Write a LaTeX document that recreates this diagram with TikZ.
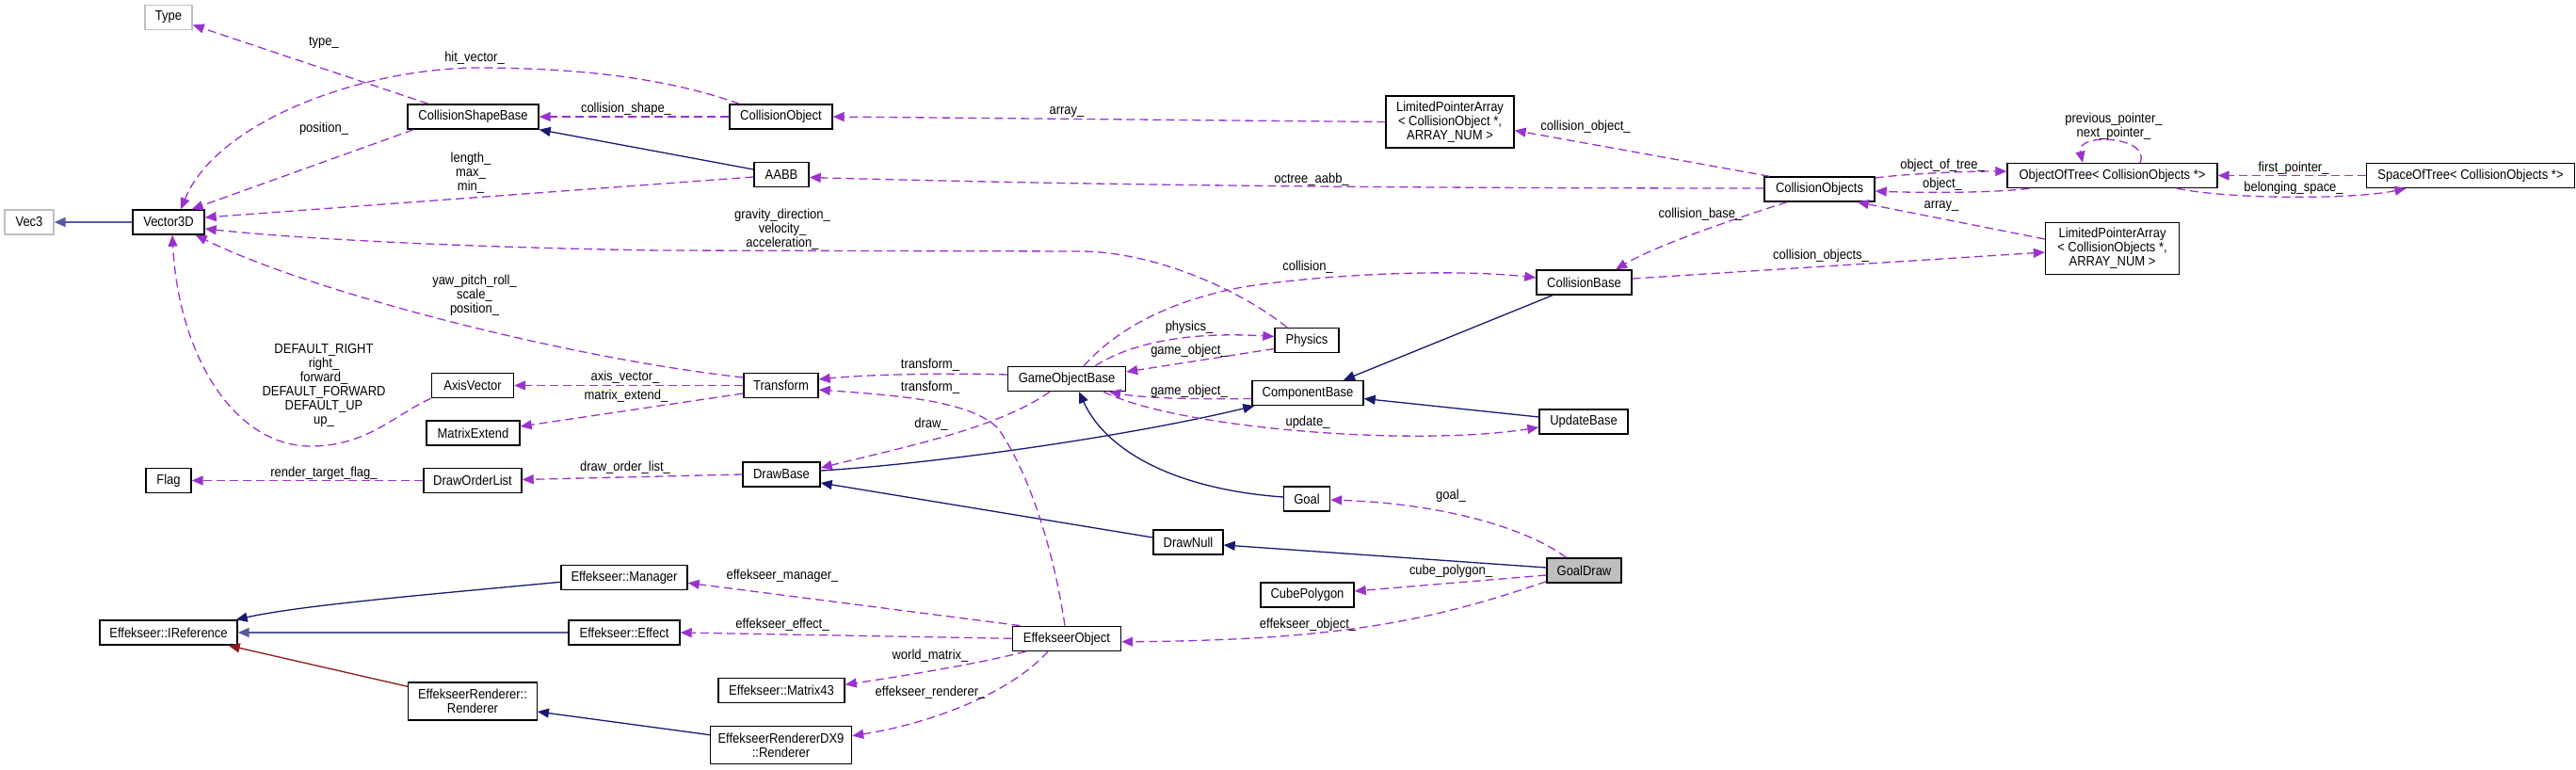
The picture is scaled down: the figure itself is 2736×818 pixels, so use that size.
\documentclass[tikz,border=0pt]{standalone}
\usepackage{fontspec}
\setmainfont{Liberation Sans}[FakeStretch=0.895]
\usetikzlibrary{arrows.meta,calc}
\definecolor{inh}{HTML}{191970}
\definecolor{inhlight}{HTML}{5858A4}
\definecolor{use}{HTML}{9A32CD}
\definecolor{priv}{HTML}{8B1A1A}
\definecolor{nodoc}{HTML}{BFBFBF}
\begin{document}
\begin{tikzpicture}[x=1pt,y=-1pt,
  every node/.style={font=\fontsize{14.5}{15}\selectfont, inner sep=0pt},
  cls/.style={draw=black, line width=1.4pt, fill=white, align=center, minimum height=26pt},
  ext/.style={cls, draw=nodoc},
  cur/.style={cls, fill=nodoc},
  inhe/.style={draw=inh, line width=1.3pt, -{Triangle[length=12pt,width=10pt]}},
  inhh/.style={inhe, draw=inhlight, line width=1.9pt},
  usee/.style={draw=use, line width=1.3pt, dash pattern=on 9pt off 5pt, -{Triangle[length=12pt,width=10pt]}},
  lbl/.style={align=center}]
\useasboundingbox (0,0) rectangle (2736,818);

% ---- classes ----
\node[ext, minimum width=50pt] (Type) at (179,18.5) {Type};
\node[ext, minimum width=52pt] (Vec3) at (31,236) {Vec3};
\node[cls, minimum width=76pt] (V3D) at (179,236) {Vector3D};
\node[cls, minimum width=139pt] (CSB) at (502.5,124) {CollisionShapeBase};
\node[cls, minimum width=109pt] (CO) at (829.5,124) {CollisionObject};
\node[cls, minimum width=58pt] (AABB) at (830,185.5) {AABB};
\node[cls, minimum width=136pt, minimum height=55pt] (LPA1) at (1540,129.5) {LimitedPointerArray\\< CollisionObject *,\\ARRAY\_NUM >};
\node[cls, minimum width=117pt] (COS) at (1932.5,201) {CollisionObjects};
\node[cls, minimum width=223pt] (OOT) at (2243.5,186.5) {ObjectOfTree< CollisionObjects *>};
\node[cls, minimum width=221pt] (SOT) at (2624,186.5) {SpaceOfTree< CollisionObjects *>};
\node[cls, minimum width=142pt, minimum height=55pt] (LPA2) at (2243.5,264) {LimitedPointerArray\\< CollisionObjects *,\\ARRAY\_NUM >};
\node[cls, minimum width=101pt] (CB) at (1682.5,300) {CollisionBase};
\node[cls, minimum width=68pt] (Phys) at (1388,361.5) {Physics};
\node[cls, minimum width=118pt] (CompB) at (1389,417.5) {ComponentBase};
\node[cls, minimum width=125pt] (GOB) at (1133,402.5) {GameObjectBase};
\node[cls, minimum width=79pt] (Trans) at (829.5,409.5) {Transform};
\node[cls, minimum width=87pt] (Axis) at (502,409.5) {AxisVector};
\node[cls, minimum width=99pt] (MatE) at (502.5,460) {MatrixExtend};
\node[cls, minimum width=48pt] (Flag) at (179,510.5) {Flag};
\node[cls, minimum width=104pt] (DOL) at (502,510.5) {DrawOrderList};
\node[cls, minimum width=82pt] (DB) at (830,504) {DrawBase};
\node[cls, minimum width=94pt] (UB) at (1682,448) {UpdateBase};
\node[cls, minimum width=49pt] (Goal) at (1388,530) {Goal};
\node[cls, minimum width=74pt] (DN) at (1262,576) {DrawNull};
\node[cur, minimum width=79pt] (GD) at (1682.5,606) {GoalDraw};
\node[cls, minimum width=99pt] (Cube) at (1388.5,632) {CubePolygon};
\node[cls, minimum width=115pt] (EO) at (1133,678.3) {EffekseerObject};
\node[cls, minimum width=134pt] (Mgr) at (663,613.3) {Effekseer::Manager};
\node[cls, minimum width=118pt] (Eff) at (663,672) {Effekseer::Effect};
\node[cls, minimum width=146pt] (IRef) at (179,672) {Effekseer::IReference};
\node[cls, minimum width=134pt] (M43) at (830,733.3) {Effekseer::Matrix43};
\node[cls, minimum width=136.5pt, minimum height=40pt] (Rend) at (502,745) {EffekseerRenderer::\\Renderer};
\node[cls, minimum width=150pt, minimum height=40pt] (DX9) at (829.5,791.7) {EffekseerRendererDX9\\::Renderer};

% ---- inheritance ----
\draw[inhh] (V3D.west) -- (Vec3.east);
\draw[inhe] ($(AABB.west)+(0,-5.5)$) -- (CSB.south east);
\draw[inhe] ($(CB.south)+(-33.5,0)$) -- ($(CompB.north)+(38,0)$);
\draw[inhe] ($(UB.west)+(0,-5)$) -- ($(CompB.east)+(0,6)$);
\draw[inhe] ($(DB.east)+(0,-4)$) .. controls (1000,492) and (1200,463) .. ($(CompB.south west)+(3,0)$);
\draw[inhe] ($(Goal.west)+(0,-2)$) .. controls (1250,520) and (1175,480) .. ($(GOB.south)+(13,0)$);
\draw[inhe] ($(DN.west)+(0,-5)$) -- ($(DB.east)+(0,9)$);
\draw[inhe] ($(GD.west)+(0,-3)$) -- ($(DN.east)+(0,3)$);
\draw[inhe] ($(Mgr.west)+(0,5)$) .. controls (450,632) and (320,643) .. ($(IRef.north east)+(-2,0)$);
\draw[inhh] (Eff.west) -- (IRef.east);
\draw[inhe, draw=priv] ($(Rend.north west)+(0,5)$) -- ($(IRef.south east)+(-10,0)$);
\draw[inhe] ($(DX9.west)+(0,-11)$) -- ($(Rend.east)+(0,11)$);

% ---- usage ----
\draw[usee] ($(CSB.north)+(-47.5,0)$) -- ($(Type.east)+(0,8)$);
\draw[usee] ($(CO.north)+(-44,0)$) .. controls (700,80) and (600,72) .. (504,72) .. controls (380,74) and (230,130) .. ($(V3D.north)+(13,0)$);
\draw[usee] ($(CSB.south west)+(7,0)$) -- ($(V3D.north east)+(-14,0)$);
\draw[usee] (CO.west) -- (CSB.east);
\draw[usee] ($(AABB.west)+(0,2.5)$) -- ($(V3D.east)+(0,-5)$);
\draw[usee] ($(Phys.north)+(-21,0)$) .. controls (1320,310) and (1230,268) .. (1149,267) -- (700,266) .. controls (500,263) and (320,254) .. ($(V3D.east)+(0,7)$);
\draw[usee] (LPA1.west) -- (CO.east);
\draw[usee] ($(COS.north west)+(6,0)$) -- ($(LPA1.east)+(0,9)$);
\draw[usee] ($(COS.west)+(0,-1)$) .. controls (1400,200) and (1100,195) .. ($(AABB.east)+(0,3)$);
\draw[usee] ($(COS.east)+(0,-12)$) .. controls (2030,184) and (2090,182) .. ($(OOT.west)+(0,-4.5)$);
\draw[usee] ($(OOT.south west)+(24,0)$) .. controls (2120,205) and (2040,205) .. ($(COS.east)+(0,2)$);
\draw[usee] ($(LPA2.west)+(0,-10)$) -- ($(COS.south east)+(-19,0)$);
\draw[usee] ($(CB.east)+(0,-4)$) -- ($(LPA2.west)+(0,4)$);
\draw[usee] ($(COS.south)+(-34.5,0)$) .. controls (1850,230) and (1760,260) .. ($(CB.north)+(33.5,0)$);
\draw[usee] ($(OOT.north)+(29.5,0)$) .. controls (2285,145) and (2205,140) .. ($(OOT.north)+(-31.5,0)$);
\draw[usee] (SOT.west) -- (OOT.east);
\draw[usee] ($(OOT.south)+(68.5,0)$) .. controls (2370,212) and (2500,212) .. ($(SOT.south west)+(42.6,0)$);
\draw[usee] ($(Trans.west)+(0,-8.5)$) .. controls (600,380) and (330,310) .. ($(V3D.south east)+(-10,0)$);
\draw[usee] (Axis.south west) .. controls (420,440) and (390,474) .. (330,474) .. controls (250,474) and (190,380) .. ($(V3D.south)+(4,0)$);
\draw[usee] (Trans.west) -- (Axis.east);
\draw[usee] ($(Trans.west)+(0,8.5)$) -- ($(MatE.east)+(0,-7)$);
\draw[usee] (DB.west) -- ($(DOL.east)+(0,-1)$);
\draw[usee] (DOL.west) -- (Flag.east);
\draw[usee] ($(GOB.west)+(0,-4.5)$) .. controls (1000,396) and (920,398) .. ($(Trans.east)+(0,-6.5)$);
\draw[usee] ($(EO.north)+(-2,0)$) .. controls (1120,590) and (1095,505) .. (1060,455) .. controls (1030,425) and (950,420) .. ($(Trans.east)+(0,4.5)$);
\draw[usee] ($(GOB.south)+(-18,0)$) .. controls (1060,455) and (960,475) .. ($(DB.east)+(0,-7)$);
\draw[usee] ($(GOB.north)+(18,0)$) .. controls (1190,345) and (1250,318) .. (1320,305) .. controls (1400,292) and (1540,285) .. ($(CB.west)+(0,-5)$);
\draw[usee] ($(GOB.north)+(30,0)$) .. controls (1200,365) and (1260,352) .. ($(Phys.west)+(0,-4)$);
\draw[usee] ($(Phys.west)+(0,9)$) -- ($(GOB.east)+(0,-7.5)$);
\draw[usee] ($(CompB.west)+(0,6)$) .. controls (1280,424) and (1220,424) .. ($(GOB.south east)+(-18,0)$);
\draw[usee] ($(GOB.south east)+(-24,0)$) .. controls (1250,455) and (1500,475) .. ($(UB.west)+(0,6)$);
\draw[usee] ($(GD.north)+(-19,0)$) .. controls (1620,560) and (1530,535) .. ($(Goal.east)+(0,1)$);
\draw[usee] ($(GD.west)+(0,5)$) -- ($(Cube.east)+(0,-4)$);
\draw[usee] ($(GD.south west)+(0,-2)$) .. controls (1520,660) and (1420,680) .. ($(EO.east)+(0,3.5)$);
\draw[usee] ($(EO.north west)+(8.5,0)$) -- ($(Mgr.east)+(0,6)$);
\draw[usee] (EO.west) -- (Eff.east);
\draw[usee] ($(EO.south west)+(15,0)$) .. controls (1040,705) and (960,718) .. ($(M43.east)+(0,-6)$);
\draw[usee] ($(EO.south)+(-20,0)$) .. controls (1070,740) and (980,770) .. ($(DX9.east)+(0,-10)$);

% ---- labels ----
\node[lbl] (l1) at (344,45) {type\_};
\node[lbl] (l2) at (504,62) {hit\_vector\_};
\node[lbl] (l3) at (344,137) {position\_};
\node[lbl] (l4) at (665,116) {collision\_shape\_};
\node[lbl] (l5) at (500,183.5) {length\_\\max\_\\min\_};
\node[lbl] (l6) at (831,244) {gravity\_direction\_\\velocity\_\\acceleration\_};
\node[lbl] (l7) at (1133,119) {array\_};
\node[lbl] (l8) at (1684,135) {collision\_object\_};
\node[lbl] (l9) at (1393,191) {octree\_aabb\_};
\node[lbl] (l10) at (2063,176) {object\_of\_tree\_};
\node[lbl] (l11) at (2063,196) {object\_};
\node[lbl] (l12) at (2062,219) {array\_};
\node[lbl] (l13) at (1934,272) {collision\_objects\_};
\node[lbl] (l14) at (1806,228) {collision\_base\_};
\node[lbl] (l15) at (2245,134) {previous\_pointer\_\\next\_pointer\_};
\node[lbl] (l16) at (2436,179) {first\_pointer\_};
\node[lbl] (l17) at (2436,200) {belonging\_space\_};
\node[lbl] (l18) at (504,313.5) {yaw\_pitch\_roll\_\\scale\_\\position\_};
\node[lbl] (l19) at (344,409.5) {DEFAULT\_RIGHT\\right\_\\forward\_\\DEFAULT\_FORWARD\\DEFAULT\_UP\\up\_};
\node[lbl] (l20) at (664,401) {axis\_vector\_};
\node[lbl] (l21) at (665,421) {matrix\_extend\_};
\node[lbl] (l22) at (664,497) {draw\_order\_list\_};
\node[lbl] (l23) at (344,503) {render\_target\_flag\_};
\node[lbl] (l24) at (988,388) {transform\_};
\node[lbl] (l25) at (988,412) {transform\_};
\node[lbl] (l26) at (989,451) {draw\_};
\node[lbl] (l27) at (1389,284) {collision\_};
\node[lbl] (l28) at (1263,348) {physics\_};
\node[lbl] (l29) at (1263,373) {game\_object\_};
\node[lbl] (l30) at (1263,416) {game\_object\_};
\node[lbl] (l31) at (1389,449) {update\_};
\node[lbl] (l32) at (1541,527) {goal\_};
\node[lbl] (l33) at (1541,607) {cube\_polygon\_};
\node[lbl] (l34) at (1389,664) {effekseer\_object\_};
\node[lbl] (l35) at (831,611.7) {effekseer\_manager\_};
\node[lbl] (l36) at (831,664) {effekseer\_effect\_};
\node[lbl] (l37) at (988,696.7) {world\_matrix\_};
\node[lbl] (l38) at (988,735.7) {effekseer\_renderer\_};
\end{tikzpicture}
\end{document}
